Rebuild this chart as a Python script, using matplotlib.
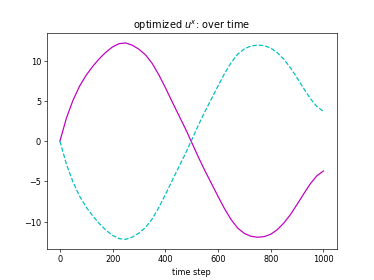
import matplotlib
matplotlib.use("Agg")
import matplotlib.pyplot as plt

time_steps = [0, 25, 50, 75, 100, 125, 150, 175, 200, 225, 250, 275, 300, 325, 350,
              375, 400, 425, 450, 475, 500, 525, 550, 575, 600, 625, 650, 675, 700,
              725, 750, 775, 800, 825, 850, 875, 900, 925, 950, 975, 1000]

u_first = [0.0, 2.9, 5.1, 6.85, 8.2, 9.3, 10.25, 11.05, 11.7, 12.1, 12.18, 11.9,
           11.4, 10.7, 9.65, 8.25, 6.65, 4.95, 3.28, 1.63, -0.15, -1.95, -3.65,
           -5.25, -6.85, -8.4, -9.75, -10.8, -11.45, -11.8, -11.92, -11.85, -11.55,
           -10.98, -10.15, -9.1, -7.85, -6.55, -5.3, -4.3, -3.7]

u_second = [0.0, -2.9, -5.1, -6.85, -8.2, -9.3, -10.25, -11.05, -11.7, -12.1, -12.18,
            -11.9, -11.4, -10.7, -9.65, -8.25, -6.65, -4.95, -3.28, -1.63, 0.15, 1.95,
            3.65, 5.25, 6.85, 8.4, 9.75, 10.8, 11.45, 11.8, 11.92, 11.85, 11.55,
            10.98, 10.15, 9.1, 7.85, 6.55, 5.3, 4.3, 3.7]

title_text = "optimized $u^x$: over time"
xlabel_text = "time step"

fig = plt.figure(figsize=(6.4, 4.8), dpi=374 / 6.4)
ax = fig.add_subplot(111)
ax.plot(time_steps, u_first, "m-")
ax.plot(time_steps, u_second, "c--")
ax.set_title(title_text)
ax.set_xlabel(xlabel_text)
fig.savefig("out.png", dpi=374 / 6.4)
